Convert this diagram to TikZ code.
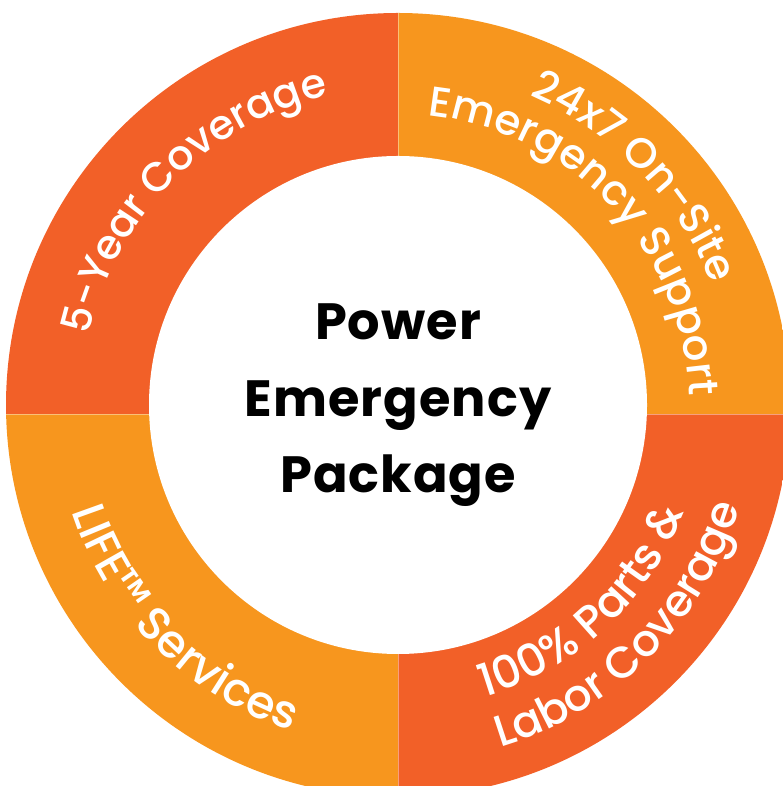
\documentclass[tikz,border=0pt]{standalone}
\usepackage{fontspec}
\setmainfont{Poppins}
\newfontfamily\headfont{Poppins}[LetterSpace=2]
\newfontfamily\ringfont{Poppins Medium}
\usetikzlibrary{decorations.text}

\definecolor{sectred}{HTML}{F26028}
\definecolor{sectorange}{HTML}{F7961E}

\def\cx{398}
\def\cy{381}
\def\ysplit{372}
\def\rin{249}
\def\rout{392}

\begin{document}
\begin{tikzpicture}[x=1pt,y=1pt]
    \tikzstyle{heading}=[font=\headfont\bfseries\fontsize{51}{60}\selectfont, anchor=base, inner sep=0pt]
    \tikzset{ringtext/.style 2 args={decorate, decoration={text along path, text align=center,
        text color=white, text={|\ringfont\fontsize{#1}{#1}\selectfont|#2}}}}

    \useasboundingbox (0,0) rectangle (782,786);
    \coordinate (C) at (\cx,\cy);

    % four quarters of the ring
    \begin{scope}
        \clip (C) circle (\rout);
        \fill[sectred] (-20,\ysplit) rectangle (\cx,820);
        \fill[sectorange] (\cx,\ysplit) rectangle (820,820);
        \fill[sectred] (\cx,-20) rectangle (820,\ysplit);
        \fill[sectorange] (-20,-20) rectangle (\cx,\ysplit);
        \draw[white, opacity=0.4, line width=0.6pt] (-20,\ysplit) -- (820,\ysplit);
        \draw[white, opacity=0.4, line width=0.6pt] (\cx,-20) -- (\cx,820);
    \end{scope}
    \fill[white] (C) circle (\rin);

    % texts on the ring
    \path[ringtext={41}{5-Year Coverage}] (C) ++(190:317) arc[start angle=190, end angle=80, radius=317];
    \path[ringtext={42}{24x7 On-Site}] (C) ++(99:336) arc[start angle=99, end angle=-11, radius=336];
    \path[ringtext={42}{Emergency Support}] (C) ++(98:291) arc[start angle=98, end angle=-12, radius=291];
    \path[ringtext={45}{100{\%} Parts {\&}}] (C) ++(-102:305) arc[start angle=-102, end angle=8, radius=305];
    \path[ringtext={44}{Labor Coverage}] (C) ++(-100:357) arc[start angle=-100, end angle=10, radius=357];
    \path[ringtext={46}{LIFE™ Services}] (C) ++(170:343) arc[start angle=170, end angle=280, radius=343];

    % centre title
    \node[heading] (power) at (\cx,446) {Power};
    \node[heading] (emergency) at (\cx,369) {Emergency};
    \node[heading] (package) at (\cx,293) {Package};
\end{tikzpicture}
\end{document}
